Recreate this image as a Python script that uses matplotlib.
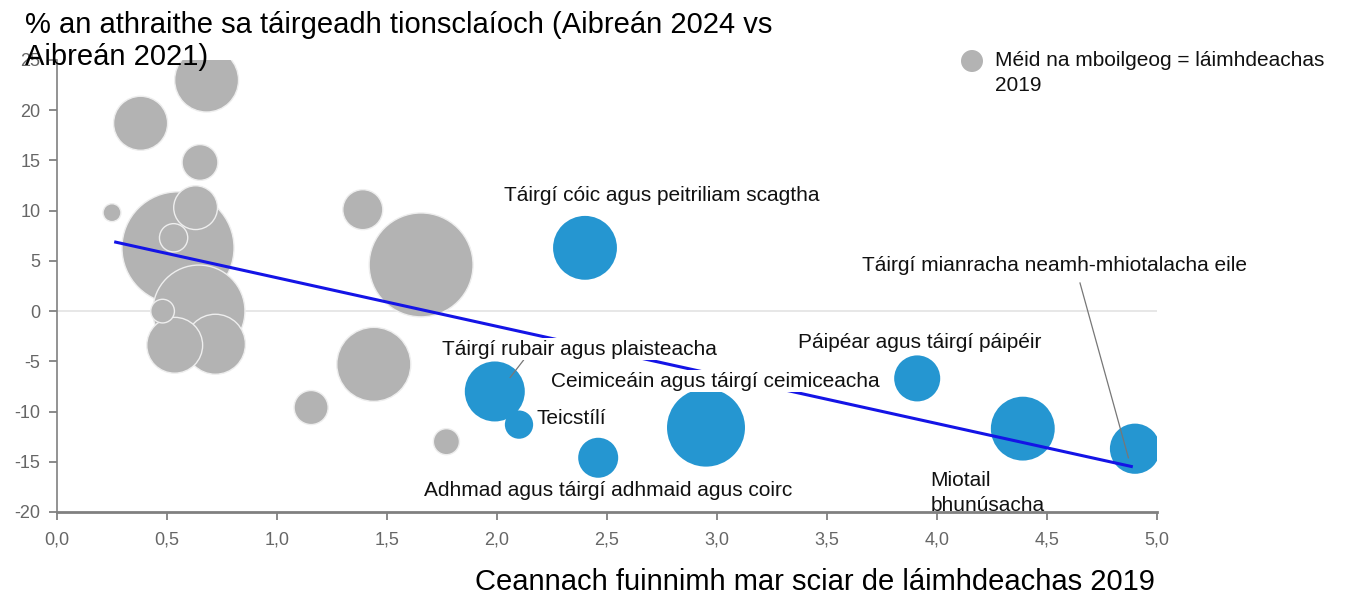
import matplotlib
matplotlib.use("Agg")
import matplotlib.pyplot as plt
import numpy as np

# grey sectors: energy share, % change, employment 2019 (bubble size)
grey_x = [0.68, 0.38, 0.65, 0.25, 0.55, 0.63, 0.53, 0.645, 0.48, 0.535, 0.72, 1.39, 1.655, 1.44, 1.155, 1.77]
grey_y = [23.0, 18.7, 14.8, 9.8, 6.3, 10.3, 7.3, 0.0, 0.0, -3.4, -3.3, 10.1, 4.6, -5.3, -9.6, -13.0]
grey_size = [10.2, 7.3, 3.2, 0.8, 31.4, 4.8, 2.0, 21.2, 1.4, 7.8, 9.0, 4.0, 27.0, 13.7, 2.9, 1.7]

# highlighted energy-intensive sectors
blue_names = [
    "Táirgí cóic agus peitriliam scagtha",
    "Táirgí rubair agus plaisteacha",
    "Teicstílí",
    "Adhmad agus táirgí adhmaid agus coirc",
    "Ceimiceáin agus táirgí ceimiceacha",
    "Páipéar agus táirgí páipéir",
    "Miotail\nbhunúsacha",
    "Táirgí mianracha neamh-mhiotalacha eile",
]
blue_x = [2.40, 1.99, 2.10, 2.46, 2.95, 3.91, 4.39, 4.90]
blue_y = [6.3, -8.0, -11.3, -14.6, -11.6, -6.7, -11.7, -13.7]
blue_size = [10.2, 9.0, 2.0, 4.0, 15.2, 5.3, 10.2, 6.3]

trend_x = [0.26, 4.89]
trend_y = [6.9, -15.5]

x_ticks = [0.0, 0.5, 1.0, 1.5, 2.0, 2.5, 3.0, 3.5, 4.0, 4.5, 5.0]
y_ticks = [-20, -15, -10, -5, 0, 5, 10, 15, 20, 25]

GREY = "#b3b3b3"
BLUE = "#2596d1"
TICK = "#666666"


def area(emp):
    # radius in px = 10*sqrt(emp); convert to points^2 at 100 dpi
    r_pt = 10 * np.sqrt(np.asarray(emp)) * 0.72
    return (2 * r_pt) ** 2


plt.rcParams["font.family"] = ["Liberation Sans", "DejaVu Sans"]
plt.rcParams["axes.unicode_minus"] = False

fig = plt.figure(figsize=(13.49, 5.96), dpi=100)
ax = fig.add_axes([57 / 1349, 1 - 512 / 596, 1100 / 1349, 452 / 596])
ax.set_xlim(0, 5)
ax.set_ylim(-20, 25)

ax.axhline(0, color="#e3e3e3", lw=1.2, zorder=1)

order = np.argsort(grey_size)[::-1]
ax.scatter(np.array(grey_x)[order], np.array(grey_y)[order], s=area(np.array(grey_size)[order]),
           color=GREY, edgecolors="#eeeeee", linewidths=1.0, zorder=2)
ax.scatter(blue_x, blue_y, s=area(blue_size), color=BLUE, edgecolors="none", zorder=2)

ax.plot(trend_x, trend_y, color="#1414e6", lw=2.2, zorder=3, solid_capstyle="butt")

lab_kw = dict(fontsize=15, color="#111111", zorder=4, va="center")
box = dict(facecolor="white", edgecolor="none", pad=1.0)
# label positions in data units
lab_pos = [(2.75, 11.5, "center"), (1.75, -3.8, "left"), (2.18, -10.7, "left"),
           (1.67, -17.85, "left"), (2.245, -7.0, "left"), (3.37, -3.1, "left"),
           (3.97, -18.1, "left"), (3.66, 4.5, "left")]
for name, (lx, ly, ha) in zip(blue_names, lab_pos):
    kw = dict(lab_kw)
    if "\n" in name:
        kw["zorder"] = 1  # axis line runs through this one in the original
        ax.text(lx, ly, name, ha=ha, linespacing=1.35, clip_on=False, **kw)
    else:
        ax.text(lx, ly, name, ha=ha, bbox=box, **kw)

# leader lines
ax.plot([2.12, 2.06], [-4.9, -6.6], color="#777777", lw=0.9, zorder=3)
ax.plot([4.65, 4.87], [2.8, -14.6], color="#777777", lw=0.9, zorder=3)

ax.set_xticks(x_ticks)
ax.set_xticklabels([f"{v:.1f}".replace(".", ",") for v in x_ticks])
ax.set_yticks(y_ticks)
ax.tick_params(axis="both", colors="#777777", labelcolor=TICK, labelsize=13, length=6, width=1.2)
ax.tick_params(axis="x", pad=8)
ax.tick_params(axis="y", pad=6)
for s in ["top", "right"]:
    ax.spines[s].set_visible(False)
for s in ["left", "bottom"]:
    ax.spines[s].set_color("#808080")
ax.spines["bottom"].set_linewidth(2.0)
ax.spines["left"].set_linewidth(1.2)

fig.text(25 / 1349, 1 - 11 / 596, "% an athraithe sa táirgeadh tionsclaíoch (Aibreán 2024 vs\nAibreán 2021)",
         fontsize=21, va="top", ha="left", linespacing=1.2, zorder=10)
fig.text(1155 / 1349, 1 - 582 / 596, "Ceannach fuinnimh mar sciar de láimhdeachas 2019",
         fontsize=21, va="center", ha="right")

# legend
lax = fig.add_axes([0, 0, 1, 1], facecolor="none")
lax.set_xlim(0, 1349)
lax.set_ylim(596, 0)
lax.axis("off")
lax.scatter([972], [61], s=(2 * 11 * 0.72) ** 2, color=GREY, edgecolors="none")
lax.text(995, 51, "Méid na mboilgeog = láimhdeachas\n2019", fontsize=15, va="top", ha="left",
         linespacing=1.4, color="#111111")

fig.savefig("out.png", dpi=100)
